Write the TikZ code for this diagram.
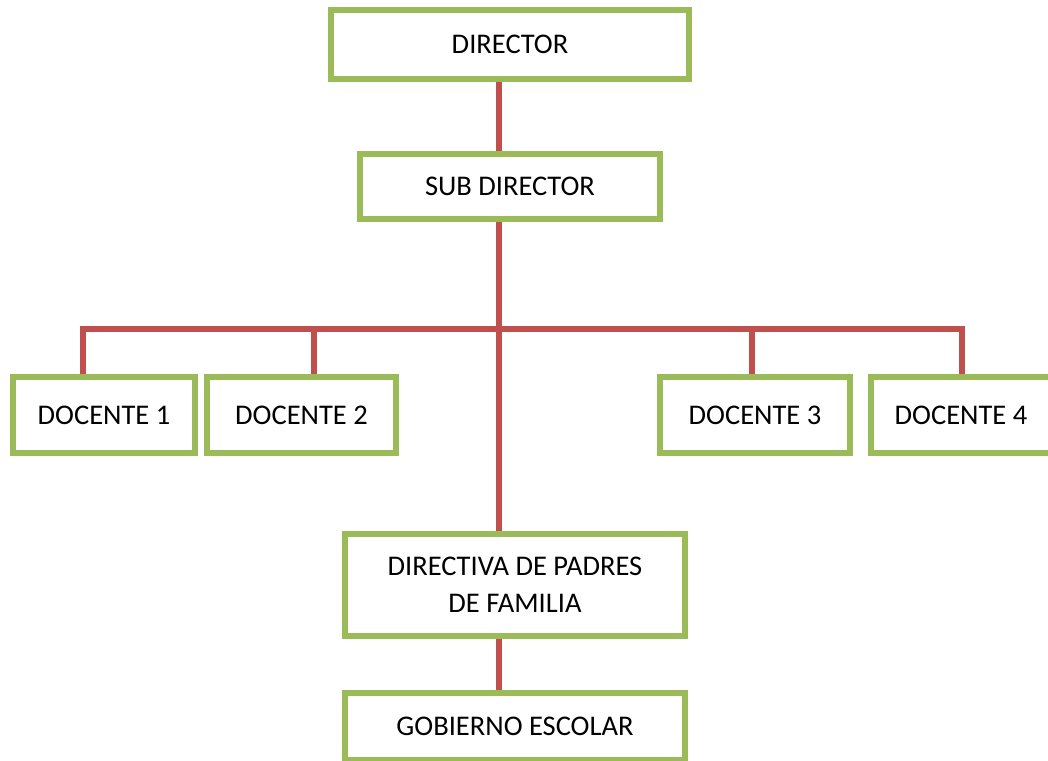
\documentclass[tikz,border=0pt]{standalone}
\usepackage{fontspec}
\setmainfont{Carlito}
\usetikzlibrary{positioning}
\definecolor{boxgreen}{HTML}{9BBB59}
\definecolor{linkred}{HTML}{C0504D}
\tikzset{
    orgbox/.style={draw=boxgreen, line width=6pt, fill=white, rectangle, align=center, inner sep=0pt, font=\fontsize{28.5}{37}\selectfont},
    link/.style={draw=linkred, line width=6.5pt}
}
\begin{document}
\begin{tikzpicture}[x=1pt, y=-1pt]
    \useasboundingbox (0,0) rectangle (1048,760);

    % Boxes
    \node[orgbox, minimum width=358pt, minimum height=69pt] (dir) at (510,44.5) {DIRECTOR};
    \node[orgbox, minimum width=300pt, minimum height=65pt] (subdir) at (510,186.5) {SUB DIRECTOR};
    \node[orgbox, minimum width=182pt, minimum height=76pt] (doc1) at (104,415) {DOCENTE 1};
    \node[orgbox, minimum width=189pt, minimum height=76pt] (doc2) at (301.5,415) {DOCENTE 2};
    \node[orgbox, minimum width=190pt, minimum height=76pt] (doc3) at (755,415) {DOCENTE 3};
    \node[orgbox, minimum width=180pt, minimum height=76pt] (doc4) at (961,415) {DOCENTE 4};
    \node[orgbox, minimum width=340pt, minimum height=102pt] (padres) at (515,585) {DIRECTIVA DE PADRES\\DE FAMILIA};
    \node[orgbox, minimum width=340pt, minimum height=67pt] (gob) at (515,726.5) {GOBIERNO ESCOLAR};

    % Links
    \coordinate (spine) at (499,329);
    \coordinate (busL) at (83,329);
    \coordinate (busD2) at (314,329);
    \coordinate (busD3) at (752,329);
    \coordinate (busR) at (962,329);
    \draw[link] (dir.south -| spine) -- (subdir.north -| spine);
    \draw[link] (subdir.south -| spine) -- (padres.north -| spine);
    \draw[link] (padres.south -| spine) -- (gob.north -| spine);
    \draw[link, line cap=rect] (busL) -- (busR);
    \draw[link] (busL) -- (busL |- doc1.north);
    \draw[link] (busD2) -- (busD2 |- doc2.north);
    \draw[link] (busD3) -- (busD3 |- doc3.north);
    \draw[link] (busR) -- (busR |- doc4.north);
\end{tikzpicture}
\end{document}
